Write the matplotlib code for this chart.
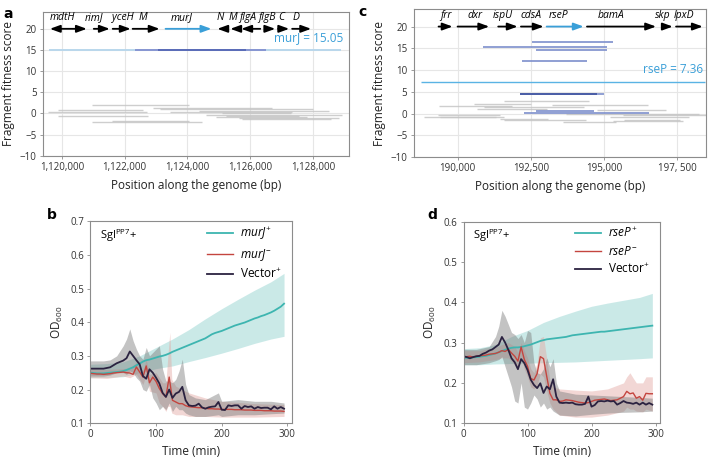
import matplotlib
matplotlib.use('Agg')
import matplotlib.pyplot as plt
import numpy as np

plt.rcParams['font.family'] = ['Open Sans', 'DejaVu Sans']
plt.rcParams['mathtext.fontset'] = 'custom'
plt.rcParams['mathtext.rm'] = 'Open Sans'
plt.rcParams['mathtext.it'] = 'Open Sans:italic'

# ---------- panel a : murJ region ----------
genes_a = ['mdtH', 'rimJ', 'yceH', 'M', 'murJ', 'N', 'M', 'flgA', 'flgB', 'C', 'D']
gstart_a = [1119619, 1121016, 1121619, 1122254, 1123302, 1124952, 1125365, 1125714, 1126476, 1126889, 1127333]
gend_a = [1120794, 1121524, 1122190, 1123111, 1124762, 1125270, 1125556, 1126317, 1126794, 1127238, 1127937]
gdir_a = ['both', '+', '+', '+', '+', '-', '-', '-', '+', '+', '+']
glabel_a = [1120030, 1121016, 1121930, 1122570, 1123810, 1125047, 1125460, 1125920, 1126540, 1126985, 1127460]

seg_a_start = [1120952, 1119873, 1119556, 1119873, 1121588, 1120952, 1122889, 1123111, 1124381,
               1123429, 1124604, 1125239, 1125652, 1124900, 1125747, 1125100]
seg_a_end = [1124064, 1122572, 1122699, 1122731, 1124064, 1124477, 1126699, 1128000, 1128509,
             1127334, 1128922, 1127556, 1128826, 1127800, 1128573, 1127300]
seg_a_score = [1.9, 0.8, 0.3, -0.6, -1.8, -1.95, 1.4, 0.95, 0.5, 0.25, -0.35, -0.6, -0.95, -0.75, -1.4, 0.0]

blue_a_start = [1122317, 1123048]
blue_a_end = [1126508, 1125873]
blue_a_score = [15.1, 15.1]
murJ_score = 15.05

# ---------- panel c : rseP region ----------
genes_c = ['frr', 'dxr', 'ispU', 'cdsA', 'rseP', 'bamA', 'skp', 'lpxD']
gstart_c = [189350, 190000, 191389, 192165, 193044, 194422, 196987, 197466]
gend_c = [189829, 191081, 192052, 192941, 194309, 196782, 197353, 198379]
glabel_c = [189600, 190592, 191539, 192507, 193465, 195243, 197021, 197739]

seg_c_start = [189350, 190550, 191580, 190890, 190660, 193240, 194750, 188860, 189320, 191600,
               193700, 195650, 195200, 195700, 189400, 191450, 193600, 195300]
seg_c_end = [191860, 192500, 194480, 194310, 193050, 196500, 197120, 191600, 191460, 194400,
             198260, 198500, 197900, 197600, 191300, 193100, 195400, 197700]
seg_c_score = [1.86, 2.25, 2.8, 1.6, 1.1, 2.0, 0.85, -0.7, -0.3, -1.4,
               -0.1, -0.3, -0.85, -1.5, -0.85, -1.2, -2.0, -1.6]

blue_c_start = [192540, 190855, 192678, 192199, 192141, 192141, 192678, 192270]
blue_c_end = [195298, 195096, 195096, 194412, 195014, 194754, 194670, 196540]
blue_c_score = [16.35, 15.4, 14.65, 12.1, 4.6, 4.6, 0.6, 0.15]
blue_c_dark = [False, False, False, False, False, True, False, False]
rseP_score = 7.36

# ---------- panel b : murJ growth ----------
time = np.arange(0, 300, 5)
murJ_plus = [0.250, 0.249, 0.248, 0.248, 0.248, 0.249, 0.250, 0.251, 0.252, 0.253, 0.255, 0.258,
             0.262, 0.266, 0.272, 0.277, 0.283, 0.287, 0.289, 0.292, 0.295, 0.298, 0.300, 0.303,
             0.307, 0.312, 0.316, 0.320, 0.324, 0.328, 0.332, 0.336, 0.340, 0.344, 0.348, 0.352,
             0.358, 0.364, 0.368, 0.371, 0.374, 0.378, 0.382, 0.386, 0.390, 0.393, 0.396, 0.399,
             0.403, 0.407, 0.411, 0.414, 0.418, 0.421, 0.425, 0.429, 0.434, 0.440, 0.446, 0.455]
murJ_minus = [0.248, 0.247, 0.246, 0.246, 0.245, 0.246, 0.247, 0.249, 0.250, 0.251, 0.252, 0.250,
              0.249, 0.245, 0.267, 0.252, 0.237, 0.270, 0.220, 0.237, 0.224, 0.203, 0.188, 0.178,
              0.237, 0.168, 0.163, 0.158, 0.158, 0.152, 0.149, 0.148, 0.147, 0.146, 0.146, 0.144,
              0.143, 0.143, 0.142, 0.142, 0.141, 0.141, 0.141, 0.141, 0.140, 0.140, 0.140, 0.139,
              0.139, 0.139, 0.138, 0.138, 0.138, 0.137, 0.137, 0.137, 0.136, 0.136, 0.136, 0.135]
vector_b = [0.262, 0.262, 0.262, 0.262, 0.262, 0.264, 0.266, 0.272, 0.278, 0.282, 0.286, 0.293,
            0.313, 0.300, 0.287, 0.275, 0.240, 0.232, 0.260, 0.250, 0.235, 0.218, 0.190, 0.178,
            0.200, 0.175, 0.188, 0.193, 0.208, 0.168, 0.153, 0.151, 0.152, 0.158, 0.147, 0.143,
            0.147, 0.149, 0.150, 0.163, 0.140, 0.139, 0.153, 0.151, 0.153, 0.153, 0.143, 0.151,
            0.148, 0.150, 0.143, 0.148, 0.145, 0.146, 0.146, 0.141, 0.150, 0.143, 0.148, 0.143]

tband_plus_b = [0, 25, 50, 75, 100, 125, 150, 175, 200, 225, 250, 275, 295]
plus_hi_b = [0.275, 0.277, 0.282, 0.300, 0.325, 0.350, 0.378, 0.410, 0.440, 0.468, 0.495, 0.520, 0.545]
plus_lo_b = [0.235, 0.236, 0.238, 0.250, 0.262, 0.270, 0.283, 0.295, 0.308, 0.322, 0.337, 0.350, 0.358]

tband_minus_b = [0, 25, 50, 60, 70, 80, 85, 90, 100, 105, 110, 115, 118, 121, 124, 130, 140, 150, 175, 200, 250, 295]
minus_hi_b = [0.262, 0.260, 0.262, 0.265, 0.280, 0.255, 0.290, 0.245, 0.250, 0.235, 0.220, 0.220, 0.300,
              0.370, 0.230, 0.210, 0.200, 0.190, 0.175, 0.165, 0.158, 0.155]
minus_lo_b = [0.235, 0.233, 0.240, 0.235, 0.245, 0.215, 0.245, 0.195, 0.190, 0.160, 0.150, 0.135, 0.150,
              0.150, 0.130, 0.125, 0.125, 0.120, 0.120, 0.118, 0.118, 0.120]

tband_vec_b = [0, 10, 20, 30, 40, 50, 55, 60, 65, 70, 75, 80, 85, 90, 95, 100, 105, 110, 115, 120, 125,
               130, 135, 140, 145, 150, 160, 175, 195, 200, 225, 250, 275, 295]
vec_hi_b = [0.285, 0.285, 0.285, 0.288, 0.300, 0.330, 0.350, 0.380, 0.345, 0.320, 0.300, 0.290, 0.325,
            0.300, 0.310, 0.320, 0.330, 0.260, 0.225, 0.225, 0.220, 0.230, 0.255, 0.290, 0.215, 0.185,
            0.175, 0.170, 0.190, 0.165, 0.170, 0.165, 0.165, 0.160]
vec_lo_b = [0.240, 0.240, 0.240, 0.243, 0.250, 0.250, 0.245, 0.255, 0.250, 0.235, 0.225, 0.200, 0.195,
            0.215, 0.175, 0.160, 0.140, 0.150, 0.140, 0.160, 0.135, 0.150, 0.140, 0.140, 0.130, 0.125,
            0.120, 0.120, 0.125, 0.120, 0.125, 0.125, 0.128, 0.130]

# ---------- panel d : rseP growth ----------
rseP_plus = [0.262, 0.262, 0.263, 0.263, 0.264, 0.265, 0.266, 0.267, 0.269, 0.271, 0.273, 0.276,
             0.279, 0.282, 0.285, 0.287, 0.288, 0.288, 0.289, 0.291, 0.293, 0.295, 0.298, 0.301,
             0.304, 0.306, 0.308, 0.309, 0.310, 0.311, 0.312, 0.313, 0.314, 0.316, 0.318, 0.319,
             0.320, 0.321, 0.322, 0.323, 0.324, 0.325, 0.326, 0.327, 0.327, 0.328, 0.329, 0.330,
             0.331, 0.332, 0.333, 0.334, 0.335, 0.336, 0.337, 0.338, 0.339, 0.340, 0.341, 0.342]
rseP_minus = [0.264, 0.265, 0.266, 0.264, 0.266, 0.267, 0.268, 0.269, 0.271, 0.272, 0.273, 0.276,
              0.280, 0.278, 0.283, 0.274, 0.266, 0.254, 0.289, 0.258, 0.241, 0.211, 0.207, 0.223,
              0.265, 0.260, 0.216, 0.174, 0.158, 0.158, 0.154, 0.155, 0.158, 0.157, 0.156, 0.154,
              0.152, 0.151, 0.150, 0.151, 0.154, 0.157, 0.158, 0.159, 0.160, 0.158, 0.156, 0.157,
              0.158, 0.162, 0.166, 0.179, 0.173, 0.175, 0.162, 0.166, 0.157, 0.174, 0.173, 0.173]
vector_d = [0.266, 0.264, 0.261, 0.264, 0.266, 0.267, 0.272, 0.275, 0.280, 0.283, 0.289, 0.295,
            0.314, 0.300, 0.282, 0.261, 0.251, 0.234, 0.259, 0.249, 0.232, 0.208, 0.195, 0.187,
            0.199, 0.175, 0.191, 0.184, 0.209, 0.166, 0.151, 0.150, 0.151, 0.150, 0.151, 0.147,
            0.146, 0.146, 0.148, 0.166, 0.141, 0.145, 0.154, 0.155, 0.154, 0.156, 0.154, 0.155,
            0.146, 0.150, 0.155, 0.151, 0.150, 0.148, 0.151, 0.146, 0.151, 0.146, 0.150, 0.146]

tband_plus_d = [0, 25, 50, 75, 100, 125, 150, 175, 200, 225, 250, 275, 295]
plus_hi_d = [0.285, 0.287, 0.295, 0.315, 0.330, 0.350, 0.365, 0.378, 0.390, 0.398, 0.405, 0.412, 0.422]
plus_lo_d = [0.245, 0.245, 0.247, 0.248, 0.249, 0.250, 0.251, 0.252, 0.254, 0.256, 0.258, 0.260, 0.262]

tband_minus_d = [0, 25, 50, 60, 70, 80, 85, 90, 95, 100, 105, 110, 115, 120, 125, 130, 135, 140, 150,
                 175, 200, 225, 250, 255, 260, 265, 270, 280, 285, 295]
minus_hi_d = [0.280, 0.280, 0.288, 0.295, 0.300, 0.290, 0.275, 0.300, 0.280, 0.262, 0.235, 0.225, 0.250,
              0.312, 0.315, 0.260, 0.205, 0.190, 0.185, 0.182, 0.180, 0.185, 0.200, 0.215, 0.225, 0.212,
              0.200, 0.200, 0.215, 0.215]
minus_lo_d = [0.250, 0.252, 0.258, 0.262, 0.262, 0.245, 0.232, 0.265, 0.235, 0.215, 0.190, 0.185, 0.195,
              0.222, 0.215, 0.180, 0.150, 0.135, 0.120, 0.115, 0.115, 0.120, 0.130, 0.140, 0.135, 0.135,
              0.130, 0.128, 0.135, 0.130]

tband_vec_d = [0, 20, 40, 50, 55, 60, 65, 70, 75, 80, 85, 90, 95, 100, 105, 110, 115, 120, 125, 130,
               135, 140, 145, 150, 175, 200, 225, 250, 275, 295]
vec_hi_d = [0.283, 0.283, 0.290, 0.315, 0.340, 0.380, 0.365, 0.345, 0.325, 0.320, 0.310, 0.320, 0.300,
            0.330, 0.325, 0.250, 0.225, 0.222, 0.235, 0.262, 0.240, 0.260, 0.200, 0.180, 0.172, 0.170,
            0.168, 0.166, 0.164, 0.162]
vec_lo_d = [0.245, 0.245, 0.250, 0.255, 0.258, 0.265, 0.240, 0.215, 0.190, 0.155, 0.150, 0.200, 0.140,
            0.135, 0.150, 0.170, 0.160, 0.140, 0.150, 0.135, 0.140, 0.130, 0.125, 0.120, 0.118, 0.122,
            0.125, 0.127, 0.128, 0.130]

# colours
SPINE = '#8c8c8c'
GRID = '#e6e6e6'
TEAL = '#3db5b0'
RED = '#c4453f'
VEC = '#2b2240'
LBLUE = '#3a9fd8'

fig = plt.figure(figsize=(7.12, 4.57), dpi=100)


def style_box(ax):
    for s in ax.spines.values():
        s.set_color(SPINE)
        s.set_linewidth(0.8)
    ax.tick_params(labelsize=7, colors='#333333', length=2.5, width=0.6, color=SPINE, pad=2)


def gene_arrow(ax, x0, x1, d, color):
    style = '-|>,head_length=0.6,head_width=0.22'
    if d == 'both':
        style = '<|-|>,head_length=0.6,head_width=0.22'
        tail, head = x0, x1
    elif d == '+':
        tail, head = x0, x1
    else:
        tail, head = x1, x0
    ax.annotate('', xy=(head, 20), xytext=(tail, 20),
                arrowprops=dict(arrowstyle=style, color=color, lw=1.3, shrinkA=0, shrinkB=0))


def fitness_axes(ax):
    style_box(ax)
    ax.set_ylim(-10, 24)
    ax.set_yticks([-10, -5, 0, 5, 10, 15, 20])
    ax.set_yticklabels(['\u221210', '\u22125', '0', '5', '10', '15', '20'])
    ax.grid(True, color=GRID, lw=0.8)
    ax.set_axisbelow(True)
    ax.set_ylabel('Fragment fitness score', fontsize=8.5, color='#222222', labelpad=3)
    ax.set_xlabel('Position along the genome (bp)', fontsize=8.5, color='#222222', labelpad=4)


# panel a
ax_a = fig.add_axes([0.060, 0.659, 0.430, 0.315])
fitness_axes(ax_a)
ax_a.set_xlim(1119390, 1129140)
ax_a.set_xticks([1120000, 1122000, 1124000, 1126000, 1128000])
ax_a.set_xticklabels(['1,120,000', '1,122,000', '1,124,000', '1,126,000', '1,128,000'])
ax_a.hlines(seg_a_score, seg_a_start, seg_a_end, color='#c6c6c6', lw=1.0, alpha=0.85)
ax_a.hlines(murJ_score, 1119587, 1128889, color='#b9d7ec', lw=1.4)
ax_a.hlines(blue_a_score[0], blue_a_start[0], blue_a_end[0], color='#8796d2', lw=1.4)
ax_a.hlines(blue_a_score[1], blue_a_start[1], blue_a_end[1], color='#5a6cb8', lw=1.4)
ax_a.text(1128950, 16.3, 'murJ = 15.05', color=LBLUE, fontsize=8.5, ha='right', va='bottom')
for g, s, e, d, lx in zip(genes_a, gstart_a, gend_a, gdir_a, glabel_a):
    c = LBLUE if g == 'murJ' else 'black'
    gene_arrow(ax_a, s, e, d, c)
    ax_a.text(lx, 21.3, g, style='italic', fontsize=7.5, ha='center', va='bottom')

# panel c
ax_c = fig.add_axes([0.581, 0.656, 0.411, 0.324])
fitness_axes(ax_c)
ax_c.set_xlim(188500, 198500)
ax_c.set_xticks([190000, 192500, 195000, 197500])
ax_c.set_xticklabels(['190,000', '192,500', '195,000', '197, 500'])
ax_c.hlines(seg_c_score, seg_c_start, seg_c_end, color='#c6c6c6', lw=1.0, alpha=0.85)
for s, e, sc, dk in zip(blue_c_start, blue_c_end, blue_c_score, blue_c_dark):
    ax_c.hlines(sc, s, e, color='#3f529f' if dk else '#7d8fcc', lw=1.2)
ax_c.hlines(rseP_score, 188745, 198468, color='#5ab3e4', lw=1.0)
ax_c.text(198400, 8.6, 'rseP = 7.36', color=LBLUE, fontsize=8.5, ha='right', va='bottom')
for g, s, e, lx in zip(genes_c, gstart_c, gend_c, glabel_c):
    c = LBLUE if g == 'rseP' else 'black'
    gene_arrow(ax_c, s, e, '+', c)
    ax_c.text(lx, 21.3, g, style='italic', fontsize=7.5, ha='center', va='bottom')


def growth_axes(ax, ytop, plus, minus, vec, bands, gene):
    style_box(ax)
    (tp, hp, lp), (tm, hm, lm), (tv, hv, lv) = bands
    ax.fill_between(tp, lp, hp, color='#9fd8d5', alpha=0.55, lw=0)
    ax.fill_between(tm, lm, hm, color='#e3a7a2', alpha=0.45, lw=0)
    ax.fill_between(tv, lv, hv, color='#7a7a7a', alpha=0.45, lw=0)
    ax.plot(time, plus, color=TEAL, lw=1.3, label=r'$\mathit{' + gene + r'}^{+}$')
    ax.plot(time, minus, color=RED, lw=1.0, label=r'$\mathit{' + gene + r'}^{-}$')
    ax.plot(time, vec, color=VEC, lw=1.3, label=r'Vector$^{+}$')
    ax.set_xlim(0, 307)
    ax.set_ylim(0.1, ytop)
    ax.set_xticks([0, 100, 200, 300])
    ax.set_ylabel(r'OD$_{600}$', fontsize=8.5, color='#222222', labelpad=4)
    ax.set_xlabel('Time (min)', fontsize=8.5, color='#222222', labelpad=3)
    ax.text(0.05, 0.97, r'Sgl$^{\mathrm{PP7}}$+', transform=ax.transAxes, fontsize=8, va='top')
    leg = ax.legend(loc='upper right', bbox_to_anchor=(1.0, 1.03), frameon=False, fontsize=8.5,
                    handlelength=2.2, labelspacing=0.4, handletextpad=0.6)
    return leg


ax_b = fig.add_axes([0.127, 0.074, 0.283, 0.442])
growth_axes(ax_b, 0.7, murJ_plus, murJ_minus, vector_b,
            [(tband_plus_b, plus_hi_b, plus_lo_b), (tband_minus_b, minus_hi_b, minus_lo_b),
             (tband_vec_b, vec_hi_b, vec_lo_b)], 'murJ')
ax_b.set_yticks([0.1, 0.2, 0.3, 0.4, 0.5, 0.6, 0.7])

ax_d = fig.add_axes([0.651, 0.074, 0.276, 0.441])
growth_axes(ax_d, 0.6, rseP_plus, rseP_minus, vector_d,
            [(tband_plus_d, plus_hi_d, plus_lo_d), (tband_minus_d, minus_hi_d, minus_lo_d),
             (tband_vec_d, vec_hi_d, vec_lo_d)], 'rseP')
ax_d.set_yticks([0.1, 0.2, 0.3, 0.4, 0.5, 0.6])

# panel letters
for lbl, x, y in [('a', 0.005, 0.985), ('c', 0.503, 0.99), ('b', 0.066, 0.545), ('d', 0.600, 0.545)]:
    fig.text(x, y, lbl, fontsize=10, fontweight='bold', va='top', family='DejaVu Sans')

fig.savefig('out.png', dpi=100)
